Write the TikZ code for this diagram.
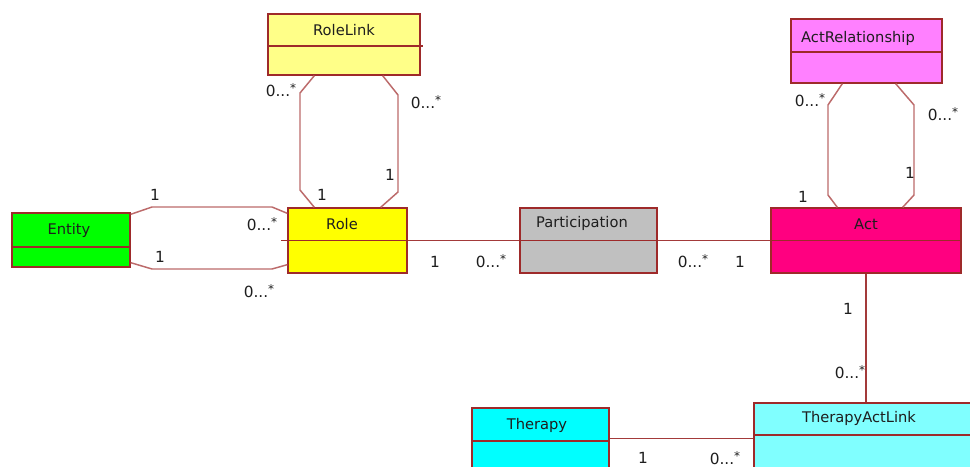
\documentclass[tikz,border=0pt]{standalone}
\usepackage{fontspec}
\setmainfont{DejaVu Sans}
\usetikzlibrary{positioning,calc,fit}

\definecolor{ink}      {HTML}{1E1E1E}
\definecolor{frame}    {HTML}{9E2A2A}
\definecolor{wire}     {HTML}{A33A3A}
\definecolor{loopwire} {HTML}{BC6A6A}
\definecolor{entityfill}{HTML}{00FF00}
\definecolor{rolefill}  {HTML}{FFFF00}
\definecolor{linkfill}  {HTML}{FFFF88}
\definecolor{partfill}  {HTML}{C0C0C0}
\definecolor{actfill}   {HTML}{FF0080}
\definecolor{relfill}   {HTML}{FF80FF}
\definecolor{therfill}  {HTML}{00FFFF}
\definecolor{talfill}   {HTML}{80FFFF}
\tikzset{
  % --- class boxes
  cls/.style      = {draw=frame, line width=1pt, inner sep=0pt, rectangle},
  cname/.style    = {font=\fontsize{11}{13}\selectfont, text=ink, inner sep=1pt},
  div/.style      = {draw=frame, line width=1pt},
  % --- associations
  assoc/.style    = {draw=wire, line width=1pt},
  selfassoc/.style= {draw=loopwire, line width=1.1pt},
  mult/.style     = {font=\fontsize{11.5}{13}\selectfont, text=ink, inner sep=0pt},
}
\newcommand{\many}{0...\raisebox{0.55ex}{\fontsize{9}{9}\selectfont *}}

\begin{document}
\begin{tikzpicture}[x=0.75pt, y=-0.75pt]
  \clip (0,0) rectangle (970,467);
  \fill[white] (0,0) rectangle (970,467);

  % ------------------------------------------------------------------ classes
  \node[cls, fill=entityfill, fit={(12,213) (130,267)}] (entity) {};
  \draw[div] (entity.west |- 0,247) -- (entity.east |- 0,247);
  \node[cname] (entity-name) at (69,230) {Entity};

  \node[cls, fill=rolefill, fit={(288,208) (407,273)}] (role) {};
  \draw[div] ($(role.west)+(-6,0)$) -- (role.east);
  \node[cname] (role-name) at (342,224) {Role};

  \node[cls, fill=linkfill, fit={(268,14) (420,75)}] (rolelink) {};
  \draw[div] (rolelink.west |- 0,46) -- ($(rolelink.east |- 0,46)+(2,0)$);
  \node[cname] (rolelink-name) at (344,30) {RoleLink};

  \node[cls, fill=partfill, fit={(520,208) (657,273)}] (part) {};
  \draw[div] (part.west) -- (part.east);
  \node[cname] (part-name) at (582,223) {Participation};

  \node[cls, fill=actfill, fit={(771,208) (961,273)}] (act) {};
  \draw[div] (act.west) -- (act.east);
  \node[cname] (act-name) at (866,224) {Act};

  \node[cls, fill=relfill, fit={(791,19) (942,83)}] (actrel) {};
  \draw[div] (actrel.west |- 0,52) -- (actrel.east |- 0,52);
  \node[cname] (actrel-name) at (858,38) {ActRelationship};

  \node[cls, fill=therfill, fit={(472,408) (609,490)}] (therapy) {};
  \draw[div] (therapy.west |- 0,441) -- (therapy.east |- 0,441);
  \node[cname] (therapy-name) at (537,425) {Therapy};

  \node[cls, fill=talfill, fit={(754,403) (978,490)}] (tal) {};
  \draw[div] (tal.west |- 0,435) -- (tal.east |- 0,435);
  \node[cname] (tal-name) at (859,418) {TherapyActLink};

  % ------------------------------------------------- entity -- role
  \draw[selfassoc] ($(entity.north east)+(0,2)$) -- (152,207) -- (272,207)
    -- ($(role.north west)+(0,6)$);
  \draw[selfassoc] ($(entity.south east)+(0,-5)$) -- (152,269) -- (272,269)
    -- ($(role.south west)+(0,-9)$);
  \node[mult] (m-er1) at (155,195) {1};
  \node[mult] (m-er2) at (262,224) {\many};
  \node[mult] (m-er3) at (160,257) {1};
  \node[mult] (m-er4) at (259,291) {\many};

  % ------------------------------------------------- role -- rolelink
  \draw[selfassoc] ($(rolelink.south west)+(47,0)$) -- (300,93) -- (300,190)
    -- ($(role.north west)+(27,0)$);
  \draw[selfassoc] ($(rolelink.south east)+(-38,0)$) -- (398,95) -- (398,192)
    -- ($(role.north east)+(-27,0)$);
  \node[mult] (m-rl1) at (281,90) {\many};
  \node[mult] (m-rl2) at (426,102) {\many};
  \node[mult] (m-rl3) at (322,195) {1};
  \node[mult] (m-rl4) at (390,175) {1};

  % ------------------------------------------------- role -- participation -- act
  \draw[assoc] (role.east) -- (part.west);
  \draw[assoc] (part.east) -- (act.west);
  \node[mult] (m-rp1) at (435,262) {1};
  \node[mult] (m-rp2) at (491,261) {\many};
  \node[mult] (m-pa1) at (693,261) {\many};
  \node[mult] (m-pa2) at (740,262) {1};

  % ------------------------------------------------- act -- actrelationship
  \draw[selfassoc] ($(actrel.south west)+(52,0)$) -- (828,105) -- (828,195)
    -- ($(act.north west)+(67,0)$);
  \draw[selfassoc] ($(actrel.south east)+(-47,0)$) -- (914,105) -- (914,195)
    -- ($(act.north east)+(-59,0)$);
  \node[mult] (m-ar1) at (810,100) {\many};
  \node[mult] (m-ar2) at (943,114) {\many};
  \node[mult] (m-ar3) at (910,173) {1};
  \node[mult] (m-ar4) at (803,197) {1};

  % ------------------------------------------------- act -- therapyactlink -- therapy
  \draw[assoc] (act.south) -- (tal.north);
  \node[mult] (m-at1) at (848,309) {1};
  \node[mult] (m-at2) at (850,372) {\many};

  \draw[assoc] ($(therapy.north east)+(0,31)$) -- ($(tal.north west)+(0,36)$);
  \node[mult] (m-tt1) at (643,458) {1};
  \node[mult] (m-tt2) at (725,458) {\many};
\end{tikzpicture}
\end{document}
